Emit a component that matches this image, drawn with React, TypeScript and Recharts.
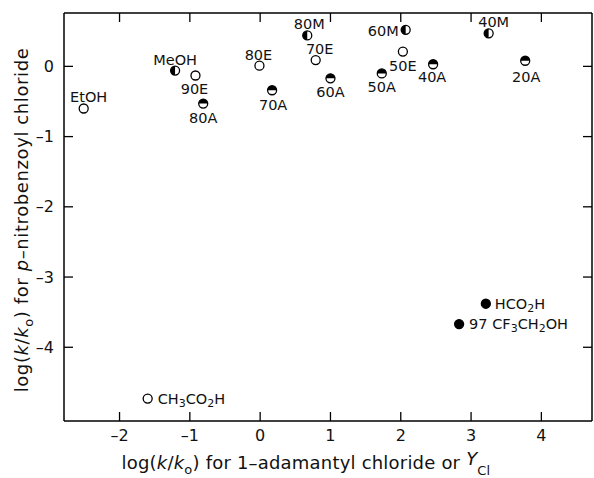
import React from 'react';
import { ScatterChart, Scatter, XAxis, YAxis } from 'recharts';

// solvents
const solvents = ['EtOH', 'MeOH', '90E', '80A', '80E', '70A', '80M', '70E', '60A', '50A', '60M', '50E', '40A', '40M', '20A', 'HCO_2H', '97 CF_3CH_2OH', 'CH_3CO_2H'];
const adamantyl = [-2.51, -1.21, -0.92, -0.81, -0.01, 0.17, 0.67, 0.79, 1.0, 1.73, 2.07, 2.03, 2.46, 3.25, 3.77, 3.21, 2.83, -1.6];
const nitrobenzoyl = [-0.6, -0.06, -0.13, -0.53, 0.01, -0.34, 0.44, 0.09, -0.17, -0.1, 0.52, 0.21, 0.03, 0.47, 0.08, -3.38, -3.67, -4.73];
const markerKind = ['open', 'halfLeft', 'open', 'halfTop', 'open', 'halfTop', 'halfLeft', 'open', 'halfTop', 'halfTop', 'halfLeft', 'open', 'halfTop', 'halfLeft', 'halfTop', 'filled', 'filled', 'open'];

const xTicks = [-2, -1, 0, 1, 2, 3, 4];
const yTicks = [0, -1, -2, -3, -4];

// where each label sits relative to its point
const labelPos: Record<string, [number, number, string]> = {
  EtOH: [5, -12, 'middle'],
  MeOH: [0, -11, 'middle'],
  '90E': [-1, 14, 'middle'],
  '80A': [0, 14, 'middle'],
  '80E': [-1, -11, 'middle'],
  '70A': [1, 15, 'middle'],
  '80M': [2, -11, 'middle'],
  '70E': [4, -11, 'middle'],
  '60A': [0, 14, 'middle'],
  '50A': [0, 14, 'middle'],
  '60M': [-7, 1, 'end'],
  '50E': [0, 14, 'middle'],
  '40A': [-1, 13, 'middle'],
  '40M': [5, -11, 'middle'],
  '20A': [1, 16, 'middle'],
  HCO_2H: [9, 0, 'start'],
  '97 CF_3CH_2OH': [10, 0, 'start'],
  CH_3CO_2H: [10, 0, 'start'],
};

const data = solvents.map((name, i) => ({
  name,
  x: adamantyl[i],
  y: nitrobenzoyl[i],
  kind: markerKind[i],
}));

const font = '"DejaVu Sans", sans-serif';
const minus = (v: number) => (v < 0 ? `\u2013${Math.abs(v)}` : `${v}`);
const TICK = 9;

const Formula = ({ text }: { text: string }) => {
  const parts = text.split(/_(\d)/);
  return (
    <>
      {parts.map((p, i) =>
        i % 2 === 1 ? (
          <tspan key={i} dy={4} fontSize={11}>{p}</tspan>
        ) : (
          <tspan key={i} dy={i > 0 ? -4 : 0}>{p}</tspan>
        )
      )}
    </>
  );
};

const Marker = (props: any) => {
  const { cx, cy, payload } = props;
  const r = 4.5;
  const [dx, dy, anchor] = labelPos[payload.name];
  let half = null;
  if (payload.kind === 'halfTop') {
    half = <path d={`M${cx - r},${cy} A${r},${r} 0 0 1 ${cx + r},${cy} Z`} fill="#000" />;
  } else if (payload.kind === 'halfLeft') {
    half = <path d={`M${cx},${cy - r} A${r},${r} 0 0 0 ${cx},${cy + r} Z`} fill="#000" />;
  }
  return (
    <g>
      <circle cx={cx} cy={cy} r={r} fill={payload.kind === 'filled' ? '#000' : '#fff'} stroke="#000" strokeWidth={1.3} />
      {half}
      <text x={cx + dx} y={cy + dy} textAnchor={anchor as any} dominantBaseline="central" fontSize={14.5} fontFamily={font} fill="#111">
        <Formula text={payload.name} />
      </text>
    </g>
  );
};

const BottomTick = (props: any) => {
  const { x, y, payload } = props;
  return (
    <g>
      <line x1={x} y1={y} x2={x} y2={y - TICK} stroke="#000" strokeWidth={1.3} />
      <text x={x} y={y + 20} textAnchor="middle" fontSize={16} fontFamily={font} fill="#111">{minus(payload.value)}</text>
    </g>
  );
};

const LeftTick = (props: any) => {
  const { x, y, payload } = props;
  return (
    <g>
      <line x1={x} y1={y} x2={x + TICK} y2={y} stroke="#000" strokeWidth={1.3} />
      <text x={x - 10} y={y} textAnchor="end" dominantBaseline="central" fontSize={16} fontFamily={font} fill="#111">{minus(payload.value)}</text>
    </g>
  );
};

const TopTick = (props: any) => {
  const { x, y } = props;
  return <line x1={x} y1={y} x2={x} y2={y + TICK} stroke="#000" strokeWidth={1.3} />;
};

const RightTick = (props: any) => {
  const { x, y } = props;
  return <line x1={x} y1={y} x2={x - TICK} y2={y} stroke="#000" strokeWidth={1.3} />;
};

const XTitle = (props: any) => {
  const { viewBox } = props;
  const cx = viewBox.x + viewBox.width / 2 - 22;
  return (
    <text x={cx} y={469} textAnchor="middle" fontSize={18} letterSpacing={0.2} fontFamily={font} fill="#111">
      log(<tspan fontStyle="italic">k</tspan>/<tspan fontStyle="italic">k</tspan>
      <tspan dy={5} fontSize={13}>o</tspan>
      <tspan dy={-5}>) for 1{'\u2013'}adamantyl chloride or </tspan>
      <tspan fontStyle="italic" dy={-4}>Y</tspan>
      <tspan dy={10} fontSize={13}>Cl</tspan>
    </text>
  );
};

const YTitle = () => (
  <text x={0} y={0} transform="translate(28,220) rotate(-90)" textAnchor="middle" fontSize={18} letterSpacing={0.6} fontFamily={font} fill="#111">
    log(<tspan fontStyle="italic">k</tspan>/<tspan fontStyle="italic">k</tspan>
    <tspan dy={5} fontSize={13}>o</tspan>
    <tspan dy={-5}>) for </tspan>
    <tspan fontStyle="italic">p</tspan>
    <tspan>{'\u2013'}nitrobenzoyl chloride</tspan>
  </text>
);

const axisLine = { stroke: '#000', strokeWidth: 1.5 };

export default function App() {
  return (
    <div style={{ position: 'absolute', left: 0, top: 0, background: '#fff' }}>
      <ScatterChart width={594} height={478} margin={{ top: 12, right: 1, left: 0, bottom: 0 }}>
        <XAxis
          type="number"
          dataKey="x"
          xAxisId="b"
          domain={[-2.79, 4.72]}
          ticks={xTicks}
          allowDataOverflow
          height={57}
          tickSize={0}
          tickMargin={0}
          tick={<BottomTick />}
          axisLine={axisLine}
          tickLine={false}
          label={{ content: <XTitle /> }}
        />
        <XAxis
          type="number"
          dataKey="x"
          xAxisId="t"
          orientation="top"
          domain={[-2.79, 4.72]}
          ticks={xTicks}
          allowDataOverflow
          height={1}
          tickSize={0}
          tickMargin={0}
          tick={<TopTick />}
          axisLine={axisLine}
          tickLine={false}
        />
        <YAxis
          type="number"
          dataKey="y"
          yAxisId="l"
          domain={[-5.05, 0.76]}
          ticks={yTicks}
          allowDataOverflow
          width={64}
          tickSize={0}
          tickMargin={0}
          tick={<LeftTick />}
          axisLine={axisLine}
          tickLine={false}
          label={{ content: <YTitle /> }}
        />
        <YAxis
          type="number"
          dataKey="y"
          yAxisId="r"
          orientation="right"
          domain={[-5.05, 0.76]}
          ticks={yTicks}
          allowDataOverflow
          width={1}
          tickSize={0}
          tickMargin={0}
          tick={<RightTick />}
          axisLine={axisLine}
          tickLine={false}
        />
        <Scatter data={data} xAxisId="t" yAxisId="r" shape={() => <g />} isAnimationActive={false} />
        <Scatter data={data} xAxisId="b" yAxisId="l" shape={<Marker />} isAnimationActive={false} />
      </ScatterChart>
    </div>
  );
}
